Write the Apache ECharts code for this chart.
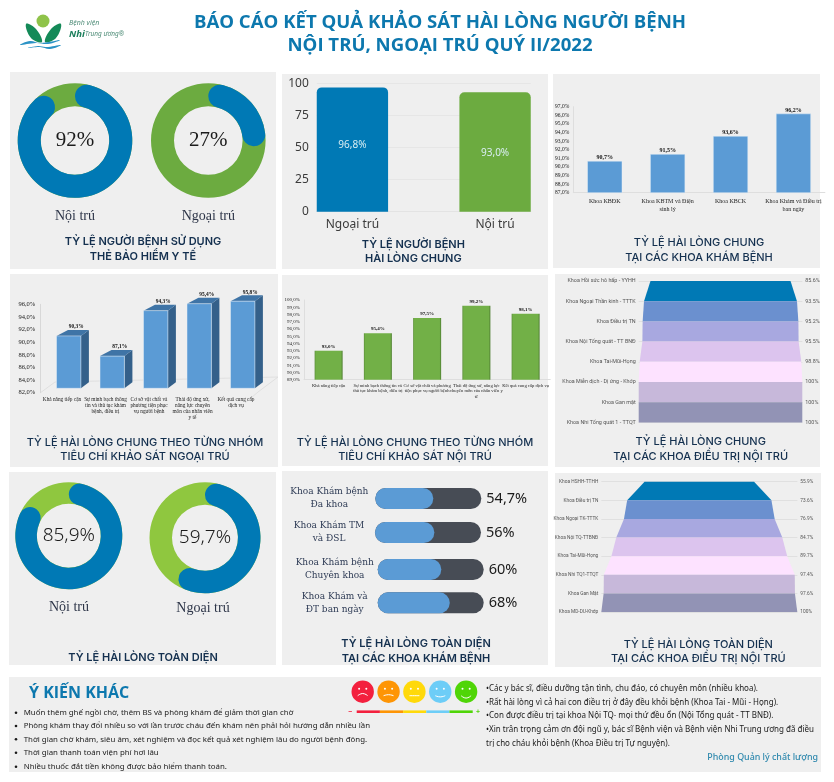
<!DOCTYPE html>
<html lang="vi"><head><meta charset="utf-8">
<style>html,body{margin:0;padding:0;background:#fff}#c{width:834px;height:782px}</style>
<script src="https://cdn.jsdelivr.net/npm/echarts@6/dist/echarts.min.js"></script>
</head><body><div id="c"></div>
<script>
// ---------- data ----------
const insurancePct = [92, 27];
const fullSatisfactionPct = [85.9, 59.7];
const donutNames = ['Nội trú', 'Ngoại trú'];
const overallCats = ['Ngoại trú', '', 'Nội trú'];
const overallVals = [96.8, null, 93.0];
const clinicCats = ['Khoa KBĐK', 'Khoa KBTM và Điện\nsinh lý', 'Khoa KBCK', 'Khoa Khám và Điều trị\nban ngày'];
const clinicVals = [90.7, 91.5, 93.6, 96.2];
const outCats = ['Khả năng tiếp cận', 'Sự minh bạch thông\ntin và thủ tục khám\nbệnh, điều trị', 'Cơ sở vật chất và\nphương tiện phục\nvụ người bệnh', 'Thái độ ứng xử,\nnăng lực chuyên\nmôn của nhân viên\ny tế', 'Kết quả cung cấp\ndịch vụ'];
const outVals = [90.3, 87.1, 94.3, 95.4, 95.8];
const inCats = ['Khả năng tiếp cận', 'Sự minh bạch thông tin và\nthủ tục khám bệnh, điều trị', 'Cơ sở vật chất và phương\ntiện phục vụ người bệnh', 'Thái độ ứng xử, năng lực\nchuyên môn của nhân viên y\ntế', 'Kết quả cung cấp dịch vụ'];
const inVals = [93.0, 95.4, 97.5, 99.2, 98.1];
const wardCats = ['Khoa Hồi sức hô hấp - YYHH', 'Khoa Ngoại Thần kinh - TTTK', 'Khoa Điều trị TN', 'Khoa Nội Tổng quát - TT BNĐ', 'Khoa Tai-Mũi-Họng', 'Khoa Miễn dịch - Dị ứng - Khớp', 'Khoa Gan mật', 'Khoa Nhi Tổng quát 1 - TTQT'];
const wardVals = [85.6, 93.5, 95.2, 95.5, 98.8, 100, 100, 100];
const pillCats = ['Khoa Khám bệnh\nĐa khoa', 'Khoa Khám TM\nvà ĐSL', 'Khoa Khám bệnh\nChuyên khoa', 'Khoa Khám và\nĐT ban ngày'];
const pillVals = [54.7, 56, 60, 68];
const wardFullCats = ['Khoa HSHH-TTHH', 'Khoa Điều trị TN', 'Khoa Ngoại TK-TTTK', 'Khoa Nội TQ-TTBNĐ', 'Khoa Tai-Mũi-Họng', 'Khoa Nhi TQ1-TTQT', 'Khoa Gan Mật', 'Khoa MD-DU-Khớp'];
const wardFullVals = [55.9, 73.6, 76.9, 84.7, 89.7, 97.4, 97.6, 100];
const commentsLeft = ['Muốn thêm ghế ngồi chờ, thêm BS và phòng khám để giảm thời gian chờ', 'Phòng khám thay đổi nhiều so với lần trước cháu đến khám nên phải hỏi hướng dẫn nhiều lần', 'Thời gian chờ khám, siêu âm, xét nghiệm và đọc kết quả xét nghiệm lâu do người bệnh đông.', 'Thời gian thanh toán viện phí hơi lâu', 'Nhiều thuốc đắt tiền không được bảo hiểm thanh toán.'];
const commentsRight = ['•Các y bác sĩ, điều dưỡng tận tình, chu đáo, có chuyên môn (nhiều khoa).', '•Rất hài lòng vì cả hai con điều trị ở đây đều khỏi bệnh (Khoa Tai - Mũi - Họng).', '•Con được điều trị tại khoa Nội TQ- mọi thứ đều ổn (Nội Tổng quát - TT BNĐ).', '•Xin trân trọng cảm ơn đội ngũ y, bác sĩ Bệnh viện và Bệnh viện Nhi Trung ương đã điều', 'trị cho cháu khỏi bệnh (Khoa Điều trị Tự nguyện).'];

// ---------- helpers ----------
const BLUE = '#0079b5', GREEN = '#6cab40', LIGHTGREEN = '#8fc73f', BAR = '#5b9bd5', NAVY = '#14304f', PANEL = '#efefef';
const SERIF = '"Liberation Serif"', SANS = '"Noto Sans"', HEAD = 'Inter';
const F = (fontSize, fontFamily, fontWeight) => ({ fontSize, fontFamily, fontWeight: fontWeight || 'normal' });
const pct1 = v => v.toFixed(1).replace('.', ',') + '%';
const pctC = v => String(v).replace('.', ',') + '%';
const grid = [], xAxis = [], yAxis = [], series = [], gfx = [];
function addGrid(g, x, y) {
  const n = grid.length;
  grid.push(g);
  xAxis.push(Object.assign({ gridIndex: n }, x));
  (Array.isArray(y) ? y : [y]).forEach(a => yAxis.push(Object.assign({ gridIndex: n }, a)));
  return [n, yAxis.length - 1];
}
function panel(x, y, w, h) { gfx.push({ type: 'rect', z: -10, silent: true, shape: { x, y, width: w, height: h }, style: { fill: PANEL } }); }
function txt(x, y, text, font, fill, align) {
  gfx.push({ type: 'text', z: 50, silent: true, x, y, style: { text, font, fill: fill || NAVY, align: align || 'center', verticalAlign: 'middle' } });
}
function title(cx, y1, y2, a, b, size, weight) {
  const f = (weight || 600) + ' ' + size + 'px ' + HEAD;
  txt(cx, y1, a, f); if (b) txt(cx, y2, b, f);
}

// ---------- panels ----------
panel(10, 72, 266, 197); panel(282, 74, 266, 195); panel(553, 74, 267, 194);
panel(10, 274, 268, 193); panel(282, 275, 266, 191); panel(555, 274, 265, 193);
panel(9, 472, 267, 193); panel(282, 471, 266, 194); panel(555, 473, 266, 194);
panel(9, 677, 812, 95);

// ---------- header ----------
function blob(points, fill) { gfx.push({ type: 'polygon', z: 50, silent: true, shape: { points, smooth: 0.4 }, style: { fill } }); }
gfx.push({ type: 'circle', z: 50, silent: true, shape: { cx: 43, cy: 21, r: 6.5 }, style: { fill: '#8fc34a' } });
blob([[26, 24], [36, 29], [42, 42], [31, 38]], '#148a58');
blob([[61, 24], [51, 29], [45, 42], [56, 38]], '#148a58');
blob([[20, 45], [30, 41], [40, 43], [60, 40], [48, 44], [36, 43]], '#2b93c6');
blob([[28, 48], [38, 46], [46, 47], [61, 45], [50, 49], [40, 47]], '#2b93c6');
txt(69, 23, 'Bệnh viện', 'italic 7px ' + SANS, '#4f8d78', 'left');
txt(69, 34, 'Nhi', 'italic bold 9.5px ' + SANS, '#1c7f5c', 'left');
txt(85, 34.5, 'Trung ương®', 'italic 6.5px ' + SANS, '#4f8d78', 'left');
txt(440, 23, 'BÁO CÁO KẾT QUẢ KHẢO SÁT HÀI LÒNG NGƯỜI BỆNH', 'bold 18.6px "Open Sans"', '#0d78ae');
txt(440, 46, 'NỘI TRÚ, NGOẠI TRÚ QUÝ II/2022', 'bold 18.6px "Open Sans"', '#0d78ae');

// ---------- donuts ----------
function donut(cx, cy, inner, outer, value, ringColor, font) {
  series.push({ type: 'pie', silent: true, center: [cx, cy], radius: [inner, outer], z: 2, label: { show: false }, labelLine: { show: false },
    data: [{ value: 100, itemStyle: { color: ringColor } }] });
  series.push({ type: 'pie', silent: true, center: [cx, cy], radius: [inner, outer], startAngle: 90, z: 3, labelLine: { show: false },
    data: [
      { value, itemStyle: { color: BLUE, borderRadius: (outer - inner) / 2 }, label: Object.assign({ show: true, position: 'center', formatter: () => pctC(value), color: '#1b1b1b' }, font) },
      { value: 100 - value, itemStyle: { color: 'transparent' }, label: { show: false } }
    ] });
}
donut(75, 140.5, 34.3, 57.3, insurancePct[0], GREEN, F(21, SERIF));
donut(208.3, 140.5, 34.3, 57.3, insurancePct[1], GREEN, F(21, SERIF));
donut(68.8, 535.7, 32, 53.5, fullSatisfactionPct[0], LIGHTGREEN, F(19, SANS, 300));
donut(205, 537.7, 33, 55.5, fullSatisfactionPct[1], LIGHTGREEN, F(19, SANS, 300));
const nameFont = '14px ' + SERIF, nameCol = '#2d3548';
txt(75, 216.5, donutNames[0], nameFont, nameCol); txt(208.3, 216.5, donutNames[1], nameFont, nameCol);
txt(69, 607.5, donutNames[0], nameFont, nameCol); txt(203, 608, donutNames[1], nameFont, nameCol);
title(143, 242, 257, 'TỶ LỆ NGƯỜI BỆNH SỬ DỤNG', 'THẺ BẢO HIỂM Y TẾ', 11);
title(143, 658, 0, 'TỶ LỆ HÀI LÒNG TOÀN DIỆN', null, 11);

// ---------- overall satisfaction ----------
{
  const [gi, yi] = addGrid({ left: 316.75, width: 214, top: 83.3, height: 128.4 },
    { type: 'category', data: overallCats, axisLine: { lineStyle: { color: '#e3e3e3' } }, axisTick: { show: false }, axisLabel: Object.assign({ interval: 0, color: '#3b3b3b', margin: 7 }, F(12, SANS)) },
    { type: 'value', min: 0, max: 100, interval: 25, axisLine: { show: false }, axisTick: { show: false }, splitLine: { lineStyle: { color: '#e6e6e6' } }, axisLabel: Object.assign({ color: '#3b3b3b', margin: 8 }, F(12, SANS)) });
  const colors = [BLUE, null, GREEN];
  series.push({ type: 'bar', xAxisIndex: gi, yAxisIndex: yi, barWidth: '100%', silent: true,
    data: overallVals.map((v, i) => v == null ? null : ({ value: v, itemStyle: { color: colors[i], borderRadius: [5, 5, 0, 0] }, label: { offset: [0, i === 0 ? -4 : 1] } })),
    label: Object.assign({ show: true, position: 'inside', formatter: p => pct1(p.value), color: '#d8eef2' }, F(10, SANS)) });
  title(413.3, 245, 259, 'TỶ LỆ NGƯỜI BỆNH', 'HÀI LÒNG CHUNG', 11);
}

// ---------- clinics ----------
{
  const [gi, yi] = addGrid({ left: 573.3, width: 251.6, top: 106.7, height: 86 },
    { type: 'category', data: clinicCats, axisLine: { lineStyle: { color: '#dedede' } }, axisTick: { show: false }, axisLabel: Object.assign({ interval: 0, color: '#222', margin: 5, lineHeight: 7.5 }, F(6, SERIF)) },
    { type: 'value', min: 87, max: 97, interval: 1, axisLine: { lineStyle: { color: '#dedede' }, show: true }, axisTick: { show: false }, splitLine: { show: false }, axisLabel: Object.assign({ formatter: pct1, color: '#222', margin: 4 }, F(5.5, SERIF)) });
  series.push({ type: 'bar', xAxisIndex: gi, yAxisIndex: yi, barWidth: 35, silent: true, data: clinicVals,
    itemStyle: { color: BAR, borderColor: '#e4eef7', borderWidth: 0.5 },
    label: Object.assign({ show: true, position: 'top', distance: 0.5, formatter: p => pct1(p.value), color: '#111' }, F(6, SERIF, 'bold')) });
  title(699, 242.7, 257.3, 'TỶ LỆ HÀI LÒNG CHUNG', 'TẠI CÁC KHOA KHÁM BỆNH', 11, 500);
}

// ---------- outpatient criteria (3D columns) ----------
{
  const [gi, yi] = addGrid({ left: 40.25, width: 217.5, top: 304.3, height: 88.4 },
    { type: 'category', data: outCats, axisLine: { show: false }, axisTick: { show: false }, axisLabel: Object.assign({ interval: 0, color: '#222', margin: 4, lineHeight: 5.9, verticalAlign: 'top' }, F(5.3, SERIF)) },
    { type: 'value', min: 82, max: 96, interval: 2, axisLine: { show: true, lineStyle: { color: '#d8d8d8' } }, axisTick: { show: false }, splitLine: { show: false }, axisLabel: Object.assign({ formatter: pct1, color: '#222', margin: 5 }, F(6.5, SERIF)) });
  const shiftX = 6.7, shiftY = -4.4, halfW = 12.2, dxL = 11.5, dxR = 8, dy = 6;
  series.push({ type: 'custom', xAxisIndex: gi, yAxisIndex: yi, silent: true, z: 3, encode: { x: 0, y: 1 },
    data: outVals.map((v, i) => [i, v]),
    renderItem(params, api) {
      const top = api.coord([api.value(0), api.value(1)]), base = api.coord([api.value(0), 82]);
      const xc = top[0] + shiftX, yt = top[1] + shiftY, yb = base[1] + shiftY;
      const l = xc - halfW, r = xc + halfW;
      return { type: 'group', children: [
        { type: 'polygon', shape: { points: [[r, yt], [r + dxR, yt - dy], [r + dxR, yb - dy], [r, yb]] }, style: { fill: '#34608a' } },
        { type: 'polygon', shape: { points: [[l, yt], [l + dxL, yt - dy], [r + dxR, yt - dy], [r, yt]] }, style: { fill: '#3f74a6' } },
        { type: 'rect', shape: { x: l, y: yt, width: r - l, height: yb - yt }, style: { fill: BAR, stroke: '#e6eef6', lineWidth: 0.5 } },
        { type: 'text', style: { x: xc + 7.5, y: yt - 9, text: pct1(api.value(1)), font: 'bold 5.4px ' + SERIF, fill: '#111', align: 'center', verticalAlign: 'middle' } }
      ] };
    } });
  gfx.push({ type: 'polyline', z: -5, silent: true, shape: { points: [[40.5, 392.7], [55, 382], [278, 377], [258, 392], [245, 403]] }, style: { fill: 'none', stroke: '#dcdcdc', lineWidth: 0.8 } });
  title(145, 442.3, 456.7, 'TỶ LỆ HÀI LÒNG CHUNG THEO TỪNG NHÓM', 'TIÊU CHÍ KHẢO SÁT NGOẠI TRÚ', 11, 500);
}

// ---------- inpatient criteria ----------
{
  const [gi, yi] = addGrid({ left: 304, width: 246.25, top: 300, height: 79.7 },
    { type: 'category', data: inCats, axisLine: { lineStyle: { color: '#dedede' } }, axisTick: { show: false }, axisLabel: Object.assign({ interval: 0, color: '#222', margin: 3, lineHeight: 5.5, verticalAlign: 'top' }, F(4.6, SERIF)) },
    { type: 'value', min: 89, max: 100, interval: 1, axisLine: { lineStyle: { color: '#dedede' }, show: true }, axisTick: { show: false }, splitLine: { show: false }, axisLabel: Object.assign({ formatter: pct1, color: '#222', margin: 4 }, F(5, SERIF)) });
  series.push({ type: 'bar', xAxisIndex: gi, yAxisIndex: yi, barWidth: 28, silent: true, data: inVals,
    itemStyle: { color: { type: 'linear', x: 0, y: 0, x2: 1, y2: 0, colorStops: [{ offset: 0, color: '#5c8f3b' }, { offset: 0.05, color: '#72b047' }, { offset: 0.94, color: '#72b047' }, { offset: 1, color: '#4d7c30' }] } },
    label: Object.assign({ show: true, position: 'top', distance: 2, formatter: p => pct1(p.value), color: '#111' }, F(5, SERIF, 'bold')) });
  title(415, 442.3, 457, 'TỶ LỆ HÀI LÒNG CHUNG THEO TỪNG NHÓM', 'TIÊU CHÍ KHẢO SÁT NỘI TRÚ', 11, 500);
}

// ---------- funnels ----------
const funnelColors = ['#0079b5', '#6b90cf', '#a8a8e0', '#dcc4ee', '#fde2ff', '#c7b8da', '#9293b5', 'transparent'];
function funnel(cats, vals, left, width, top, step, fontSize) {
  const axisBase = { type: 'category', inverse: true, boundaryGap: false, axisLine: { show: false }, axisTick: { show: false } };
  const lab = Object.assign({ interval: 0, color: '#555', margin: 3 }, F(fontSize, 'Roboto'));
  const [gi, yi] = addGrid({ left, width, top, height: step * 7 },
    { type: 'value', show: false, min: 0, max: 100 },
    [Object.assign({ data: cats, position: 'left', splitLine: { show: true, interval: 0, lineStyle: { color: '#dcdcdc', width: 0.8 } }, axisLabel: lab }, axisBase),
     Object.assign({ data: vals.map(v => v + '%'), position: 'right', splitLine: { show: false }, axisLabel: lab }, axisBase)]);
  series.push({ type: 'funnel', silent: true, sort: 'none', gap: 0, min: 0, max: 100, minSize: 0, maxSize: '100%', left, width, top, height: step * 8, z: 3,
    label: { show: false }, labelLine: { show: false },
    data: vals.map((v, i) => ({ value: v, name: cats[i], itemStyle: { color: funnelColors[i], borderWidth: 0 } })) });
}
funnel(wardCats, wardVals, 638.7, 163.6, 281, 20.2, 5.4);
title(700.7, 442, 456.7, 'TỶ LỆ HÀI LÒNG CHUNG', 'TẠI CÁC KHOA ĐIỀU TRỊ NỘI TRÚ', 11, 500);
funnel(wardFullCats, wardFullVals, 601.3, 196, 481.7, 18.62, 4.8);
title(698.3, 644.3, 658.3, 'TỶ LỆ HÀI LÒNG TOÀN DIỆN', 'TẠI CÁC KHOA ĐIỀU TRỊ NỘI TRÚ', 11, 500);

// ---------- pills ----------
const pillPos = [[375.3, 488, 46], [375, 522, 46], [377.7, 559, 43], [377.7, 592.3, 43]];
pillCats.forEach((cat, i) => {
  const [x, y, m] = pillPos[i];
  const [gi, yi] = addGrid({ left: x, top: y, width: 106, height: 21 },
    { type: 'value', min: 0, max: 100, show: false },
    { type: 'category', data: [cat], axisLine: { show: false }, axisTick: { show: false }, axisLabel: Object.assign({ color: '#2e3b55', align: 'center', margin: m, lineHeight: 13 }, F(9, 'DejaVu Serif')) });
  series.push({ type: 'bar', xAxisIndex: gi, yAxisIndex: yi, silent: true, barWidth: 21, barGap: '-100%', z: 2, data: [100], itemStyle: { color: '#474c55', borderRadius: 10.5 },
    label: Object.assign({ show: true, position: 'right', distance: 5, formatter: () => pctC(pillVals[i]), color: '#1b1b1b' }, F(14.5, SANS)) });
  series.push({ type: 'bar', xAxisIndex: gi, yAxisIndex: yi, silent: true, barWidth: 21, barGap: '-100%', z: 3, data: [pillVals[i]], itemStyle: { color: BAR, borderRadius: 10.5 } });
});
title(416, 644, 658.7, 'TỶ LỆ HÀI LÒNG TOÀN DIỆN', 'TẠI CÁC KHOA KHÁM BỆNH', 11);

// ---------- comments ----------
txt(29, 693, 'Ý KIẾN KHÁC', 'bold 16px "Open Sans"', '#0d78ae', 'left');
[712.7, 726, 739.3, 752.7, 766.7].forEach((y, i) => {
  gfx.push({ type: 'circle', z: 50, silent: true, shape: { cx: 16, cy: y, r: 1.3 }, style: { fill: '#1a1a1a' } });
  txt(23.7, y, commentsLeft[i], '7.85px ' + SANS, '#1a1a1a', 'left');
});
[689, 702.7, 716, 730, 743.3].forEach((y, i) => txt(486, y, commentsRight[i], '8px ' + SANS, '#1a1a1a', 'left'));
txt(818, 757.3, 'Phòng Quản lý chất lượng', '500 8.9px ' + SANS, '#2e88ad', 'right');
const faceColors = ['#f3203e', '#fe9505', '#ffd90a', '#6dcdf7', '#4fd507'];
const faceCurve = [-2.2, -1, 0, 1.2, 2.4];
faceColors.forEach((c, i) => {
  const cx = 362.7 + i * 25.85, cy = 691.7;
  gfx.push({ type: 'circle', z: 50, silent: true, shape: { cx, cy, r: 11.2 }, style: { fill: c } });
  [-3.6, 3.6].forEach(d => gfx.push({ type: 'circle', z: 51, silent: true, shape: { cx: cx + d, cy: cy - 3, r: 1 }, style: { fill: '#fff' } }));
  gfx.push({ type: 'polyline', z: 51, silent: true, shape: { points: [[cx - 5, cy + 4], [cx, cy + 4 + faceCurve[i]], [cx + 5, cy + 4]], smooth: 0.5 }, style: { stroke: '#fff', fill: 'none', lineWidth: 1 } });
  gfx.push({ type: 'rect', z: 50, silent: true, shape: { x: 356.7 + i * 23.2, y: 710.4, width: 23.2, height: 2.6 }, style: { fill: c } });
});
txt(350, 711.5, '−', 'bold 7px ' + SANS, '#f3203e');
txt(478, 711.5, '+', 'bold 7px ' + SANS, '#4fd507');

const chart = echarts.init(document.getElementById('c'), null, { renderer: 'canvas', width: 834, height: 782 });
chart.setOption({ animation: false, backgroundColor: '#fff', grid, xAxis, yAxis, series, graphic: { elements: gfx } });
</script></body></html>
